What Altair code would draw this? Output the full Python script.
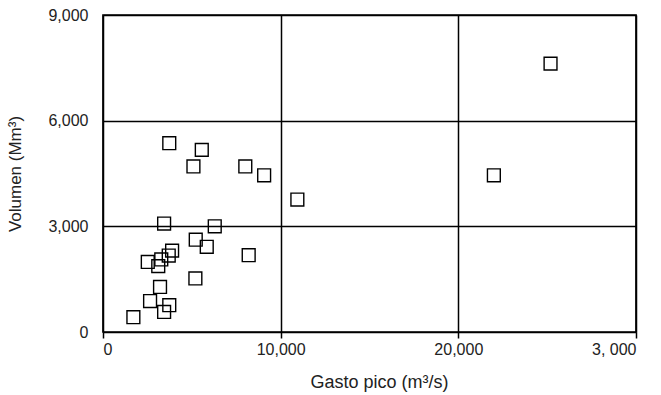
import altair as alt
import pandas as pd

# Peak discharge (m³/s) and flood volume (Mm³) for each recorded event
gasto = [3730, 5560, 5090, 8010, 9070, 10940, 3440, 6290, 5220, 5840, 8200,
         3890, 3700, 3280, 2520, 3110, 5200, 3210, 2650, 3730, 3440, 1710,
         25190, 22000]
volumen = [5360, 5170, 4700, 4700, 4450, 3760, 3080, 3000, 2620, 2420, 2180,
           2310, 2170, 2060, 1990, 1870, 1520, 1280, 880, 760, 570, 420,
           7620, 4450]

x_ticks = [0, 10000, 20000, 30000]
x_tick_labels = ["0", "10,000", "20,000", "3, 000"]
y_ticks = [0, 3000, 6000, 9000]
y_tick_labels = ["0", "3,000", "6,000", "9,000"]

df = pd.DataFrame({"gasto": gasto, "volumen": volumen})

x_label_expr = " : ".join(
    f"datum.value == {v} ? '{t}'" for v, t in zip(x_ticks, x_tick_labels)
) + " : ''"
y_label_expr = " : ".join(
    f"datum.value == {v} ? '{t}'" for v, t in zip(y_ticks, y_tick_labels)
) + " : ''"

font = "Liberation Sans"
text_color = "#222"

chart = (
    alt.Chart(df)
    .mark_point(shape="square", filled=False, size=165, stroke="black",
                strokeWidth=1.4, opacity=1)
    .encode(
        x=alt.X(
            "gasto:Q",
            scale=alt.Scale(domain=[0, 30000], nice=False, zero=True),
            axis=alt.Axis(
                values=x_ticks,
                labelExpr=x_label_expr,
                title="Gasto pico (m³/s)",
                grid=True,
                gridColor="black",
                gridWidth=1.5,
                domain=False,
                ticks=True,
                tickColor="black",
                tickWidth=1.5,
                tickSize=6,
                labelPadding=3,
                labelFont=font,
                labelFontSize=16,
                labelColor=text_color,
                titleFont=font,
                titleFontSize=18,
                titleFontWeight="normal",
                titleColor=text_color,
                titleBaseline="middle",
                titleY=50,
                titleX=276,
            ),
        ),
        y=alt.Y(
            "volumen:Q",
            scale=alt.Scale(domain=[0, 9000], nice=False, zero=True),
            axis=alt.Axis(
                values=y_ticks,
                labelExpr=y_label_expr,
                title="Volumen (Mm³)",
                grid=True,
                gridColor="black",
                gridWidth=1.5,
                domain=False,
                ticks=False,
                labelPadding=15,
                labelFont=font,
                labelFontSize=16,
                labelColor=text_color,
                titleFont=font,
                titleFontSize=17,
                titleFontWeight="normal",
                titleColor=text_color,
                titleBaseline="middle",
                titleX=-88,
            ),
        ),
    )
    .properties(
        width=533,
        height=317,
        autosize=alt.AutoSizeParams(type="none"),
        padding={"left": 103, "top": 15, "right": 25, "bottom": 63},
        background="white",
    )
    .configure_view(stroke="black", strokeWidth=1.7)
)

chart.save("out.html", embed_options={"renderer": "svg", "actions": False})
